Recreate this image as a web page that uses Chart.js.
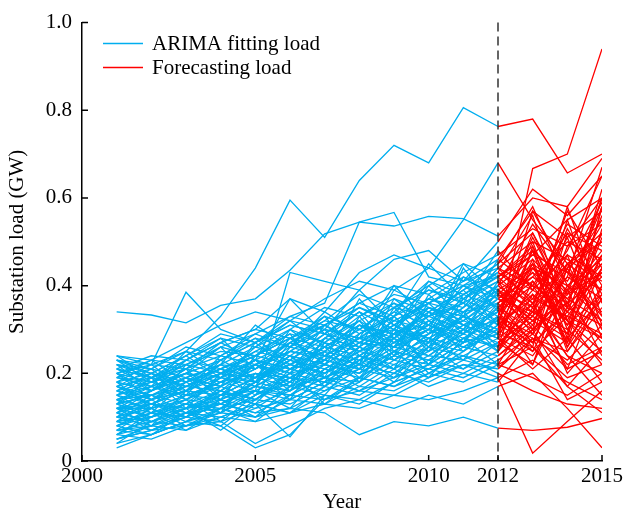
<!DOCTYPE html>
<html>
<head>
<meta charset="utf-8">
<script src="https://cdn.jsdelivr.net/npm/chart.js@4.4.1/dist/chart.umd.min.js"></script>
<style>
  html, body { margin: 0; padding: 0; background: #fff; }
  canvas { display: block; }
</style>
</head>
<body>
<canvas id="loadChart" width="626" height="513"></canvas>
<script>
// years of the fitted part and of the forecast part
const fitYears = [2001, 2002, 2003, 2004, 2005, 2006, 2007, 2008, 2009, 2010, 2011, 2012];
const forecastYears = [2013, 2014, 2015];
const xTickYears = [2000, 2005, 2010, 2012, 2015];
const yTickValues = [0, 0.2, 0.4, 0.6, 0.8, 1.0];

// ARIMA fitted load of each substation, 2001-2012 (GW)
const fittedLoad = [
  [0.22, 0.21, 0.25, 0.33, 0.44, 0.595, 0.51, 0.64, 0.72, 0.68, 0.806, 0.763],
  [0.19, 0.18, 0.23, 0.27, 0.30, 0.37, 0.34, 0.43, 0.47, 0.44, 0.55, 0.68],
  [0.14, 0.15, 0.17, 0.20, 0.22, 0.25, 0.24, 0.28, 0.30, 0.27, 0.33, 0.30],
  [0.34, 0.333, 0.315, 0.355, 0.37, 0.435, 0.518, 0.545, 0.536, 0.558, 0.553, 0.513],
  [0.23, 0.22, 0.385, 0.30, 0.27, 0.33, 0.36, 0.545, 0.567, 0.42, 0.40, 0.45],
  [0.12, 0.13, 0.12, 0.15, 0.16, 0.43, 0.41, 0.39, 0.46, 0.48, 0.41, 0.50],
  [0.10, 0.09, 0.12, 0.13, 0.11, 0.12, 0.11, 0.06, 0.09, 0.08, 0.10, 0.075],
  [0.05, 0.07, 0.08, 0.09, 0.04, 0.08, 0.12, 0.14, 0.12, 0.15, 0.13, 0.17],
  [0.03, 0.06, 0.09, 0.08, 0.03, 0.06, 0.14, 0.16, 0.15, 0.19, 0.22, 0.19],
  [0.24, 0.22, 0.21, 0.26, 0.29, 0.26, 0.31, 0.35, 0.32, 0.36, 0.40, 0.42],
  [0.18, 0.16, 0.20, 0.19, 0.23, 0.21, 0.26, 0.24, 0.29, 0.31, 0.28, 0.33],
  [0.15, 0.17, 0.14, 0.19, 0.18, 0.24, 0.22, 0.27, 0.25, 0.30, 0.34, 0.36],
  [0.09, 0.11, 0.13, 0.12, 0.16, 0.15, 0.19, 0.22, 0.20, 0.24, 0.23, 0.27],
  [0.21, 0.19, 0.24, 0.28, 0.26, 0.30, 0.27, 0.32, 0.36, 0.33, 0.38, 0.35],
  [0.13, 0.10, 0.15, 0.17, 0.14, 0.20, 0.18, 0.23, 0.21, 0.25, 0.29, 0.26],
  [0.07, 0.09, 0.08, 0.12, 0.14, 0.13, 0.17, 0.15, 0.20, 0.18, 0.22, 0.21],
  [0.20, 0.23, 0.22, 0.25, 0.24, 0.28, 0.33, 0.30, 0.35, 0.39, 0.37, 0.41],
  [0.16, 0.14, 0.18, 0.21, 0.25, 0.23, 0.20, 0.26, 0.31, 0.28, 0.33, 0.39],
  [0.11, 0.14, 0.16, 0.15, 0.19, 0.22, 0.20, 0.25, 0.28, 0.24, 0.30, 0.32],
  [0.06, 0.08, 0.11, 0.10, 0.13, 0.11, 0.15, 0.14, 0.18, 0.21, 0.19, 0.23],
  [0.22, 0.20, 0.18, 0.23, 0.27, 0.31, 0.29, 0.34, 0.30, 0.37, 0.35, 0.44],
  [0.17, 0.19, 0.21, 0.24, 0.22, 0.27, 0.25, 0.30, 0.27, 0.33, 0.36, 0.31],
  [0.12, 0.12, 0.15, 0.18, 0.20, 0.18, 0.23, 0.21, 0.26, 0.29, 0.32, 0.29],
  [0.08, 0.11, 0.10, 0.14, 0.12, 0.17, 0.19, 0.18, 0.23, 0.21, 0.26, 0.24],
  [0.19, 0.21, 0.19, 0.22, 0.26, 0.24, 0.29, 0.27, 0.31, 0.35, 0.33, 0.38],
  [0.14, 0.16, 0.19, 0.17, 0.21, 0.25, 0.23, 0.28, 0.26, 0.31, 0.29, 0.34],
  [0.10, 0.08, 0.12, 0.14, 0.17, 0.15, 0.21, 0.19, 0.24, 0.22, 0.27, 0.30],
  [0.05, 0.07, 0.10, 0.09, 0.12, 0.14, 0.13, 0.17, 0.16, 0.20, 0.18, 0.22],
  [0.23, 0.21, 0.26, 0.24, 0.29, 0.33, 0.31, 0.36, 0.40, 0.38, 0.43, 0.47],
  [0.18, 0.20, 0.17, 0.21, 0.24, 0.28, 0.26, 0.31, 0.29, 0.34, 0.39, 0.43],
  [0.13, 0.15, 0.13, 0.16, 0.20, 0.19, 0.24, 0.28, 0.26, 0.30, 0.27, 0.35],
  [0.09, 0.10, 0.13, 0.11, 0.15, 0.18, 0.16, 0.21, 0.25, 0.23, 0.28, 0.26],
  [0.16, 0.13, 0.17, 0.20, 0.18, 0.22, 0.27, 0.25, 0.30, 0.28, 0.32, 0.37],
  [0.21, 0.24, 0.23, 0.27, 0.30, 0.28, 0.32, 0.38, 0.35, 0.40, 0.45, 0.42],
  [0.11, 0.13, 0.11, 0.13, 0.17, 0.21, 0.19, 0.23, 0.27, 0.25, 0.31, 0.28],
  [0.07, 0.06, 0.09, 0.12, 0.10, 0.14, 0.18, 0.16, 0.19, 0.23, 0.21, 0.25],
  [0.20, 0.18, 0.22, 0.20, 0.25, 0.29, 0.27, 0.33, 0.37, 0.34, 0.31, 0.36],
  [0.15, 0.18, 0.16, 0.20, 0.19, 0.23, 0.28, 0.26, 0.32, 0.30, 0.35, 0.40],
  [0.12, 0.14, 0.17, 0.16, 0.14, 0.19, 0.17, 0.22, 0.20, 0.26, 0.24, 0.28],
  [0.04, 0.06, 0.09, 0.11, 0.10, 0.12, 0.16, 0.19, 0.17, 0.20, 0.24, 0.20],
  [0.24, 0.23, 0.27, 0.31, 0.34, 0.32, 0.37, 0.41, 0.39, 0.44, 0.41, 0.46],
  [0.17, 0.15, 0.19, 0.22, 0.21, 0.26, 0.24, 0.29, 0.34, 0.31, 0.37, 0.33],
  [0.10, 0.12, 0.14, 0.13, 0.18, 0.16, 0.21, 0.26, 0.23, 0.27, 0.25, 0.31],
  [0.13, 0.11, 0.14, 0.18, 0.16, 0.20, 0.22, 0.20, 0.24, 0.28, 0.26, 0.29],
  [0.19, 0.17, 0.20, 0.23, 0.28, 0.26, 0.30, 0.28, 0.33, 0.37, 0.42, 0.39],
  [0.08, 0.10, 0.12, 0.15, 0.13, 0.16, 0.20, 0.24, 0.22, 0.26, 0.30, 0.27],
  [0.14, 0.17, 0.15, 0.18, 0.23, 0.21, 0.25, 0.23, 0.28, 0.32, 0.29, 0.34],
  [0.22, 0.19, 0.23, 0.21, 0.24, 0.30, 0.35, 0.33, 0.38, 0.36, 0.41, 0.44],
  [0.06, 0.05, 0.08, 0.10, 0.09, 0.11, 0.13, 0.12, 0.15, 0.14, 0.16, 0.19],
  [0.11, 0.09, 0.11, 0.15, 0.19, 0.17, 0.22, 0.20, 0.25, 0.23, 0.28, 0.32],
  [0.16, 0.18, 0.20, 0.18, 0.22, 0.20, 0.26, 0.31, 0.29, 0.33, 0.30, 0.37],
  [0.20, 0.22, 0.25, 0.23, 0.27, 0.32, 0.30, 0.28, 0.34, 0.41, 0.38, 0.43],
  [0.09, 0.07, 0.10, 0.13, 0.11, 0.15, 0.14, 0.19, 0.17, 0.22, 0.20, 0.24],
  [0.13, 0.15, 0.18, 0.21, 0.19, 0.24, 0.22, 0.27, 0.32, 0.36, 0.34, 0.40],
  [0.18, 0.16, 0.21, 0.19, 0.23, 0.27, 0.32, 0.30, 0.35, 0.33, 0.39, 0.45],
  [0.10, 0.13, 0.12, 0.16, 0.14, 0.18, 0.24, 0.22, 0.27, 0.30, 0.26, 0.31],
  [0.07, 0.08, 0.10, 0.13, 0.16, 0.14, 0.18, 0.21, 0.19, 0.22, 0.27, 0.29],
  [0.15, 0.13, 0.16, 0.19, 0.17, 0.22, 0.20, 0.24, 0.29, 0.27, 0.31, 0.28],
  [0.21, 0.19, 0.22, 0.26, 0.24, 0.28, 0.31, 0.36, 0.33, 0.39, 0.36, 0.41],
  [0.12, 0.10, 0.13, 0.11, 0.15, 0.19, 0.23, 0.21, 0.26, 0.24, 0.29, 0.35],
  [0.17, 0.14, 0.16, 0.20, 0.24, 0.22, 0.26, 0.31, 0.28, 0.35, 0.32, 0.38],
  [0.05, 0.08, 0.07, 0.10, 0.13, 0.055, 0.15, 0.13, 0.18, 0.21, 0.24, 0.22],
  [0.23, 0.20, 0.24, 0.29, 0.27, 0.31, 0.29, 0.35, 0.31, 0.36, 0.40, 0.37],
  [0.14, 0.12, 0.15, 0.14, 0.18, 0.23, 0.21, 0.25, 0.23, 0.29, 0.33, 0.30],
  [0.17, 0.21, 0.15, 0.23, 0.19, 0.28, 0.22, 0.31, 0.26, 0.36, 0.29, 0.41],
  [0.12, 0.08, 0.16, 0.11, 0.20, 0.14, 0.25, 0.18, 0.30, 0.22, 0.34, 0.26],
  [0.22, 0.16, 0.20, 0.26, 0.18, 0.30, 0.24, 0.22, 0.35, 0.27, 0.44, 0.34],
  [0.09, 0.14, 0.10, 0.17, 0.22, 0.16, 0.27, 0.21, 0.33, 0.25, 0.37, 0.43],
  [0.15, 0.11, 0.18, 0.14, 0.24, 0.29, 0.19, 0.33, 0.24, 0.38, 0.31, 0.28],
  [0.20, 0.14, 0.19, 0.16, 0.22, 0.18, 0.28, 0.34, 0.25, 0.30, 0.45, 0.38],
  [0.06, 0.10, 0.14, 0.09, 0.15, 0.20, 0.13, 0.19, 0.28, 0.20, 0.25, 0.33],
  [0.13, 0.19, 0.12, 0.20, 0.15, 0.26, 0.33, 0.24, 0.29, 0.40, 0.33, 0.46],
  [0.18, 0.12, 0.22, 0.17, 0.27, 0.21, 0.23, 0.37, 0.28, 0.34, 0.39, 0.31],
  [0.11, 0.16, 0.21, 0.14, 0.18, 0.25, 0.30, 0.22, 0.37, 0.31, 0.27, 0.39],
  [0.24, 0.19, 0.17, 0.22, 0.31, 0.26, 0.34, 0.29, 0.33, 0.45, 0.37, 0.42],
  [0.08, 0.12, 0.09, 0.14, 0.10, 0.17, 0.15, 0.24, 0.19, 0.27, 0.33, 0.25],
  [0.14, 0.09, 0.13, 0.19, 0.23, 0.17, 0.28, 0.32, 0.23, 0.29, 0.35, 0.44],
  [0.19, 0.23, 0.18, 0.21, 0.17, 0.27, 0.23, 0.28, 0.40, 0.32, 0.36, 0.32],
  [0.04, 0.09, 0.12, 0.07, 0.13, 0.11, 0.17, 0.23, 0.18, 0.26, 0.21, 0.27],
  [0.16, 0.20, 0.24, 0.19, 0.26, 0.32, 0.26, 0.30, 0.36, 0.29, 0.42, 0.37],
  [0.10, 0.15, 0.11, 0.12, 0.18, 0.24, 0.17, 0.26, 0.21, 0.34, 0.27, 0.36],
  [0.21, 0.17, 0.25, 0.20, 0.23, 0.20, 0.31, 0.26, 0.39, 0.35, 0.30, 0.40],
  [0.07, 0.12, 0.08, 0.11, 0.16, 0.12, 0.21, 0.17, 0.22, 0.19, 0.28, 0.22],
  [0.13, 0.17, 0.20, 0.15, 0.22, 0.19, 0.18, 0.29, 0.33, 0.26, 0.38, 0.42],
  [0.23, 0.18, 0.21, 0.27, 0.23, 0.37, 0.29, 0.34, 0.30, 0.41, 0.36, 0.48],
  [0.11, 0.07, 0.11, 0.16, 0.13, 0.21, 0.26, 0.19, 0.24, 0.32, 0.25, 0.30],
  [0.18, 0.22, 0.16, 0.24, 0.28, 0.22, 0.25, 0.32, 0.27, 0.31, 0.40, 0.35],
  [0.08, 0.06, 0.11, 0.08, 0.14, 0.19, 0.14, 0.18, 0.25, 0.19, 0.23, 0.21],
  [0.15, 0.20, 0.14, 0.17, 0.21, 0.27, 0.31, 0.27, 0.26, 0.35, 0.31, 0.34],
  [0.20, 0.16, 0.23, 0.28, 0.21, 0.25, 0.30, 0.39, 0.31, 0.37, 0.34, 0.39],
  [0.12, 0.16, 0.19, 0.13, 0.17, 0.16, 0.22, 0.20, 0.29, 0.22, 0.30, 0.25],
  [0.09, 0.13, 0.10, 0.15, 0.19, 0.24, 0.19, 0.24, 0.21, 0.28, 0.23, 0.33],
  [0.17, 0.13, 0.16, 0.22, 0.18, 0.23, 0.29, 0.25, 0.31, 0.26, 0.33, 0.29],
  [0.06, 0.11, 0.07, 0.12, 0.09, 0.15, 0.19, 0.16, 0.21, 0.17, 0.20, 0.18]
];

// forecast load of the same substations, 2013-2015 (GW)
const forecastLoad = [
  [0.78, 0.657, 0.70],
  [0.55, 0.45, 0.50],
  [0.667, 0.70, 0.94],
  [0.60, 0.58, 0.69],
  [0.52, 0.38, 0.60],
  [0.62, 0.56, 0.65],
  [0.07, 0.077, 0.097],
  [0.20, 0.12, 0.03],
  [0.018, 0.09, 0.16],
  [0.47, 0.43, 0.55],
  [0.50, 0.30, 0.44],
  [0.27, 0.45, 0.30],
  [0.33, 0.28, 0.37],
  [0.42, 0.50, 0.46],
  [0.36, 0.21, 0.40],
  [0.28, 0.23, 0.31],
  [0.36, 0.45, 0.39],
  [0.44, 0.34, 0.52],
  [0.45, 0.26, 0.38],
  [0.29, 0.21, 0.25],
  [0.40, 0.52, 0.48],
  [0.37, 0.33, 0.44],
  [0.48, 0.32, 0.25],
  [0.30, 0.36, 0.27],
  [0.45, 0.39, 0.58],
  [0.22, 0.44, 0.30],
  [0.25, 0.33, 0.29],
  [0.26, 0.19, 0.22],
  [0.53, 0.49, 0.60],
  [0.39, 0.47, 0.42],
  [0.41, 0.31, 0.38],
  [0.32, 0.27, 0.40],
  [0.34, 0.29, 0.47],
  [0.48, 0.41, 0.54],
  [0.24, 0.35, 0.31],
  [0.34, 0.30, 0.23],
  [0.43, 0.37, 0.32],
  [0.46, 0.38, 0.43],
  [0.21, 0.28, 0.18],
  [0.16, 0.13, 0.12],
  [0.57, 0.51, 0.57],
  [0.29, 0.39, 0.45],
  [0.38, 0.32, 0.28],
  [0.36, 0.24, 0.20],
  [0.35, 0.44, 0.50],
  [0.33, 0.42, 0.37],
  [0.40, 0.35, 0.62],
  [0.50, 0.46, 0.41],
  [0.23, 0.18, 0.14],
  [0.28, 0.25, 0.35],
  [0.44, 0.40, 0.34],
  [0.37, 0.48, 0.65],
  [0.31, 0.22, 0.26],
  [0.54, 0.43, 0.39],
  [0.58, 0.40, 0.46],
  [0.27, 0.34, 0.43],
  [0.26, 0.17, 0.11],
  [0.34, 0.45, 0.52],
  [0.47, 0.55, 0.60],
  [0.30, 0.38, 0.48],
  [0.32, 0.36, 0.56],
  [0.19, 0.15, 0.20],
  [0.42, 0.36, 0.52],
  [0.39, 0.34, 0.28],
  [0.30, 0.55, 0.33],
  [0.49, 0.28, 0.58],
  [0.26, 0.52, 0.38],
  [0.56, 0.32, 0.47],
  [0.45, 0.27, 0.53],
  [0.33, 0.58, 0.36],
  [0.52, 0.35, 0.45],
  [0.40, 0.29, 0.58],
  [0.57, 0.43, 0.33],
  [0.29, 0.49, 0.54],
  [0.35, 0.57, 0.44],
  [0.38, 0.20, 0.29],
  [0.36, 0.51, 0.31],
  [0.48, 0.26, 0.44],
  [0.22, 0.39, 0.24],
  [0.31, 0.47, 0.28],
  [0.43, 0.31, 0.51],
  [0.34, 0.53, 0.40],
  [0.35, 0.24, 0.15],
  [0.49, 0.35, 0.60],
  [0.39, 0.54, 0.49],
  [0.46, 0.25, 0.37],
  [0.27, 0.44, 0.59],
  [0.30, 0.17, 0.26],
  [0.51, 0.36, 0.42],
  [0.32, 0.42, 0.67],
  [0.41, 0.32, 0.22],
  [0.25, 0.40, 0.32],
  [0.44, 0.37, 0.47],
  [0.28, 0.14, 0.18]
];

const fitColor = '#00AEEF';
const forecastColor = '#FF0000';
const serif = "'Liberation Serif', 'Times New Roman', serif";

const datasets = [];
fittedLoad.forEach(function(s) {
  datasets.push({
    label: 'ARIMA fitting load',
    data: fitYears.map((yr, i) => ({x: yr, y: s[i]})),
    borderColor: fitColor,
  });
});
forecastLoad.forEach(function(s, k) {
  // forecast starts from the last fitted value
  const xs = [2012].concat(forecastYears);
  const ys = [fittedLoad[k][fittedLoad[k].length - 1]].concat(s);
  datasets.push({
    label: 'Forecasting load',
    data: xs.map((yr, i) => ({x: yr, y: ys[i]})),
    borderColor: forecastColor,
  });
});

// inward tick marks, dashed 2012 line and the legend
const decorations = {
  id: 'decorations',
  afterDatasetsDraw(chart) {
    const {ctx, chartArea, scales} = chart;
    const x = scales.x.getPixelForValue(2012);
    ctx.save();
    ctx.strokeStyle = '#333';
    ctx.lineWidth = 1.5;
    ctx.setLineDash([9, 5]);
    ctx.beginPath();
    ctx.moveTo(x, chartArea.top);
    ctx.lineTo(x, chartArea.bottom);
    ctx.stroke();
    ctx.restore();
  },
  afterDraw(chart) {
    const {ctx, chartArea, scales} = chart;
    ctx.save();
    ctx.strokeStyle = '#000';
    ctx.lineWidth = 1.5;
    ctx.beginPath();
    xTickYears.forEach(function(v) {
      const px = scales.x.getPixelForValue(v);
      ctx.moveTo(px, chartArea.bottom);
      ctx.lineTo(px, chartArea.bottom - 6);
    });
    yTickValues.forEach(function(v) {
      const py = scales.y.getPixelForValue(v);
      ctx.moveTo(chartArea.left, py);
      ctx.lineTo(chartArea.left + 6, py);
    });
    ctx.stroke();

    // legend
    const rows = [['ARIMA fitting load', fitColor], ['Forecasting load', forecastColor]];
    ctx.font = '21px ' + serif;
    ctx.textBaseline = 'middle';
    ctx.fillStyle = '#000';
    rows.forEach(function(r, i) {
      const y = 43.5 + i * 24;
      ctx.strokeStyle = r[1];
      ctx.lineWidth = 1.3;
      ctx.beginPath();
      ctx.moveTo(103, y);
      ctx.lineTo(143, y);
      ctx.stroke();
      ctx.fillText(r[0], 152, y + 1);
    });
    ctx.restore();
  }
};

const tickFont = {family: serif, size: 21};

new Chart(document.getElementById('loadChart'), {
  type: 'line',
  data: {datasets: datasets},
  options: {
    responsive: false,
    animation: false,
    devicePixelRatio: 1,
    layout: {padding: {left: 0, right: 22, top: 17, bottom: 0}},
    elements: {
      line: {borderWidth: 1.3, tension: 0, fill: false},
      point: {radius: 0, hoverRadius: 0}
    },
    plugins: {
      legend: {display: false},
      tooltip: {enabled: false}
    },
    scales: {
      x: {
        type: 'linear',
        min: 2000,
        max: 2015,
        afterBuildTicks: (scale) => { scale.ticks = xTickYears.map(v => ({value: v})); },
        afterFit: (scale) => { scale.height = 52; },
        ticks: {
          callback: (v) => String(v),
          font: tickFont,
          color: '#000',
          padding: 3,
          maxRotation: 0,
          autoSkip: false
        },
        grid: {display: true, drawOnChartArea: false, drawTicks: false},
        border: {color: '#000', width: 1.5},
        title: {
          display: true,
          text: 'Year',
          font: {family: serif, size: 21, lineHeight: 1},
          color: '#000',
          padding: {top: 0, bottom: 0}
        }
      },
      y: {
        min: 0,
        max: 1,
        afterBuildTicks: (scale) => { scale.ticks = yTickValues.map(v => ({value: v})); },
        afterFit: (scale) => { scale.width = 82; },
        ticks: {
          callback: (v) => v === 0 ? '0' : v.toFixed(1),
          font: tickFont,
          color: '#000',
          padding: 10
        },
        grid: {display: true, drawOnChartArea: false, drawTicks: false},
        border: {color: '#000', width: 1.5},
        title: {
          display: true,
          text: 'Substation load (GW)',
          font: {family: serif, size: 21, lineHeight: 1},
          color: '#000',
          padding: {top: 7, bottom: 0}
        }
      }
    }
  },
  plugins: [decorations]
});
</script>
</body>
</html>
